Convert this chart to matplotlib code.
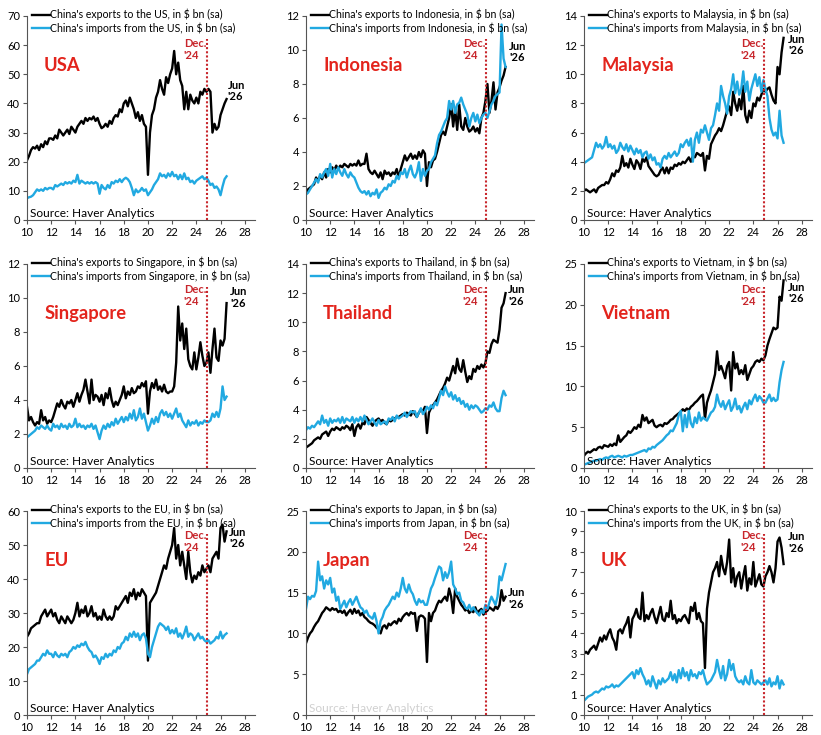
import numpy as np
import matplotlib
matplotlib.use("Agg")
import matplotlib.pyplot as plt

plt.rcParams['font.family'] = ['Lato', 'DejaVu Sans']

# bi-monthly observations, Jan 2010 .. mid 2026 (6 per year)
usa_exp = [20.5, 22, 24, 25, 24.5, 25.5, 24, 26, 25, 27, 26, 28, 28, 27.5, 29, 28, 31, 30,
           29, 30, 31, 29.5, 32, 31, 30, 32, 33, 34, 33, 35, 34, 35, 34.5, 35.5, 34, 35,
           33, 31.5, 32, 33, 32, 34, 33, 35, 36, 35.5, 38, 37, 40, 41, 39, 42, 40, 38,
           35, 37, 34, 36, 33, 32, 15.5, 30, 36, 38, 42, 44, 48, 45, 43, 49, 47, 50,
           52, 58, 50, 54, 48, 46, 38, 44, 38, 43, 41, 40, 42, 40, 44, 43, 45, 44,
           45, 44, 30, 33, 31, 32, 36, 38, 40, 41.5]
usa_imp = [7.5, 7.8, 8, 8.5, 9.5, 10.5, 10, 10.5, 10, 11, 10.5, 11, 11, 10.5, 12, 11.5, 12, 12.5,
           12, 13, 12.5, 13, 12.5, 13.5, 13, 15.5, 12.5, 13.5, 13, 12.5, 13, 12.5, 13, 12.5, 13, 12.5,
           9, 12, 11, 10.5, 12, 11, 13, 12.5, 13.5, 13, 14, 13, 14, 14.5, 14, 13, 11, 8.5,
           10.5, 9.5, 10, 11, 10, 10.5, 8.5, 9.5, 10.5, 12, 13, 14, 16, 15, 15.5, 14.5, 16, 15,
           16.5, 15, 15.5, 14, 15.5, 14, 16, 14, 14.5, 13, 13.5, 12.5, 13.5, 14, 14.5, 15, 14, 14.5,
           13.5, 12, 12.5, 11, 11.5, 10.5, 8.5, 11.5, 14, 15]

idn_exp = [1.6, 1.8, 1.9, 2.0, 2.1, 2.5, 2.3, 2.6, 2.4, 2.8, 2.5, 3.0, 2.8, 3.1, 2.9, 3.2, 3.0, 3.2,
           3.1, 3.3, 3.2, 3.1, 3.3, 3.2, 3.3, 3.2, 3.5, 3.2, 3.3, 3.3, 3.9, 3.0, 2.8, 2.7, 2.9, 2.7,
           2.5, 2.8, 2.4, 2.9, 2.7, 2.8, 2.6, 2.8, 2.7, 3.0, 2.5, 3.0, 3.4, 3.8, 3.5, 3.7, 3.9, 3.6,
           3.8, 3.6, 4.0, 3.7, 4.1, 3.9, 2.0, 3.4, 3.1, 3.5, 3.6, 4.0, 4.5, 5.0, 5.2, 5.0, 5.5, 6.0,
           6.8, 5.5, 6.5, 5.3, 6.8, 5.5, 5.3, 6.0, 5.5, 5.2, 5.3, 5.5, 5.2, 5.4, 5.1, 6.0, 6.3, 7.0,
           8.0, 6.3, 7.0, 8.1, 6.5, 7.5, 7.8, 8.2, 8.5, 9.0]
idn_imp = [1.5, 1.6, 1.8, 2.0, 2.2, 2.4, 2.2, 2.7, 2.5, 2.8, 3.0, 2.6, 3.3, 2.5, 3.0, 2.7, 3.1, 2.8,
           2.6, 3.0, 2.7, 2.5, 2.8, 2.6, 2.5, 2.2, 1.9, 1.7, 1.6, 1.7, 1.5, 1.7, 1.4, 1.6, 1.5, 1.8,
           1.3, 1.6, 1.7, 1.9, 1.8, 2.1, 2.0, 2.3, 2.2, 2.6, 2.4, 2.8, 2.7, 3.0, 2.5, 2.9, 3.2, 2.7,
           2.5, 2.8, 3.4, 2.3, 3.0, 2.6, 2.9, 3.0, 3.4, 3.6, 3.8, 4.5, 5.0, 5.2, 5.5, 5.8, 6.0, 7.0,
           6.5, 7.0, 6.3, 6.8, 6.9, 7.2, 6.8, 6.5, 6.2, 5.5, 6.0, 6.3, 5.8, 6.2, 5.7, 6.0, 6.2, 6.3,
           6.0, 6.4, 6.8, 7.0, 7.3, 7.4, 7.5, 11.5, 9.5, 9.0]

mys_exp = [2.0, 2.1, 2.0, 1.9, 2.0, 2.1, 1.9, 2.2, 2.3, 2.4, 2.4, 2.6, 2.5, 2.8, 3.2, 3.0, 3.4, 3.3,
           3.6, 4.4, 3.7, 3.9, 3.6, 4.2, 3.8, 3.5, 4.1, 3.9, 3.5, 4.2, 4.0, 4.3, 3.7, 3.5, 3.3, 3.1,
           3.0, 3.1, 3.4, 3.6, 3.2, 3.6, 3.2, 3.6, 3.5, 3.8, 3.7, 3.9, 3.8, 4.0, 3.9, 4.1, 4.3, 4.0,
           4.4, 4.3, 4.6, 4.5, 4.4, 4.6, 3.4, 4.4, 4.2, 5.2, 5.5, 5.8, 6.0, 6.3, 6.1, 6.5, 7.0, 7.5,
           7.8, 7.2, 8.8, 8.0, 7.5, 8.3, 7.6, 9.2, 7.2, 6.7, 7.5, 7.0, 8.0, 7.8, 8.4, 8.2, 8.6, 9.0,
           8.8, 9.0, 9.1, 8.6, 8.2, 8.0, 10.5, 10.0, 11.5, 12.5]
mys_imp = [3.9, 4.0, 4.1, 4.2, 4.3, 4.8, 5.3, 5.0, 5.2, 4.9, 5.1, 5.7, 5.0, 5.2, 4.9, 5.1, 4.6, 4.8,
           5.3, 5.0, 4.8, 5.2, 4.7, 5.1, 4.8, 4.5, 4.9, 4.6, 4.8, 4.3, 4.6, 4.7, 4.2, 4.5, 4.1, 4.3,
           3.8, 3.9, 3.6, 4.2, 4.4, 4.2, 4.6, 4.3, 4.5, 4.7, 4.4, 4.6, 5.2, 5.0, 5.3, 5.5, 5.1, 5.6,
           4.0, 5.5, 6.0, 5.3, 6.2, 6.0, 6.5, 6.0, 5.5, 6.3, 6.5, 7.2, 8.0, 7.5, 9.2, 8.5, 8.0, 7.3,
           8.5, 9.0, 10.0, 8.7, 9.5, 8.6, 9.0, 10.2, 8.8, 9.5, 8.2, 9.0, 9.5, 10.0, 9.2, 9.8, 8.8, 9.6,
           9.0, 8.5, 7.0, 6.2, 5.8, 6.0, 5.6, 7.5, 5.8, 5.3]

sgp_exp = [3.6, 2.8, 3.0, 2.7, 2.5, 2.7, 2.6, 3.4, 2.8, 3.0, 2.6, 2.8, 2.7, 3.0, 3.4, 3.8, 3.6, 4.0,
           3.7, 3.5, 3.9, 3.8, 4.0, 3.6, 4.0, 4.4, 3.9, 4.3, 4.6, 5.2, 4.5, 3.8, 5.2, 4.0, 4.3, 4.2,
           3.9, 4.3, 3.7, 4.4, 4.1, 4.7, 4.0, 3.6, 3.9, 3.7, 4.0, 4.3, 4.8, 4.1, 4.5, 4.3, 4.7, 4.4,
           4.5, 4.8, 4.7, 5.0, 4.8, 5.1, 3.2, 4.5, 5.0, 4.7, 5.2, 4.6, 4.8, 4.5, 4.9, 4.5, 4.4, 4.5,
           4.5, 4.8, 6.2, 9.5, 7.5, 8.5, 7.0, 8.2, 6.4, 6.0, 5.8, 6.8, 5.8, 6.5, 7.4, 6.6, 6.0, 6.2,
           6.8, 5.6, 7.0, 8.2, 6.5, 6.3, 7.5, 7.2, 7.6, 9.7]
sgp_imp = [1.8, 1.9, 2.0, 2.1, 2.2, 2.4, 2.3, 2.5, 2.4, 2.3, 2.5, 2.3, 2.2, 2.6, 2.4, 2.5, 2.3, 2.6,
           2.4, 2.5, 2.3, 2.6, 2.4, 2.5, 2.9, 2.4, 2.6, 2.4, 2.5, 2.3, 2.5, 2.4, 2.6, 2.3, 2.5, 2.1,
           1.7, 2.2, 2.5, 2.3, 2.6, 2.4, 2.7, 2.5, 2.9, 2.6, 2.8, 3.0, 2.7, 3.0, 2.8, 3.2, 2.9, 3.4,
           2.8, 3.0, 3.5, 2.9, 3.2, 2.7, 2.2, 2.5, 2.9, 2.6, 3.0, 2.7, 3.2, 3.4, 3.1, 3.3, 3.0, 3.2,
           2.9, 3.2, 3.5, 3.0, 3.2, 2.8, 2.6, 2.4, 2.8, 2.5, 2.7, 2.6, 2.8, 2.5, 2.7, 2.6, 2.8, 2.7,
           2.7, 2.8, 3.2, 3.0, 3.3, 3.0, 3.5, 4.8, 4.0, 4.2]

tha_exp = [1.4, 1.5, 1.6, 1.7, 1.9, 2.0, 2.1, 2.0, 2.3, 2.4, 2.5, 2.2, 2.5, 2.7, 2.6, 2.8, 2.7, 2.6,
           2.8, 2.7, 2.9, 2.8, 2.6, 3.0, 2.2, 2.8, 3.0, 2.7, 3.1, 3.0, 3.5, 3.3, 3.1, 2.9, 3.2, 3.3,
           3.4, 3.2, 3.3, 3.1, 3.0, 3.3, 3.2, 3.3, 3.4, 3.5, 3.5, 3.6, 3.7, 3.6, 3.8, 3.7, 3.6, 3.9,
           3.7, 3.5, 3.8, 4.0, 3.9, 4.2, 2.4, 3.8, 4.1, 4.3, 4.5, 4.7, 5.0, 5.3, 5.5, 5.8, 6.2, 6.0,
           6.5, 7.0, 6.5, 7.5, 6.8, 6.6, 7.4, 6.6, 5.9, 6.3, 6.1, 6.8, 6.6, 7.0, 6.8, 7.1, 6.9, 7.2,
           8.0, 7.9, 8.5, 8.8, 8.7, 8.6, 9.5, 11.0, 11.3, 12.0]
tha_imp = [2.6, 2.8, 2.7, 2.9, 2.8, 3.0, 3.2, 3.0, 3.6, 3.1, 3.3, 2.9, 3.4, 3.1, 3.3, 3.2, 3.4, 3.1,
           3.5, 3.1, 3.4, 3.3, 3.2, 3.5, 3.1, 3.4, 3.2, 3.5, 3.2, 3.6, 3.3, 3.0, 3.2, 3.4, 3.1, 2.9,
           3.3, 3.0, 3.1, 3.2, 3.0, 3.4, 3.3, 3.5, 3.2, 3.6, 3.4, 3.5, 3.6, 3.8, 3.5, 3.7, 3.9, 3.8,
           3.9, 3.5, 3.8, 4.1, 3.7, 3.9, 4.2, 4.0, 4.3, 4.1, 4.5, 4.3, 4.8, 5.3, 5.0, 5.6, 5.2, 4.9,
           5.2, 4.7, 5.0, 4.6, 4.8, 4.4, 4.6, 4.2, 4.4, 4.0, 4.3, 4.1, 4.3, 4.2, 4.0, 3.8, 3.9, 4.1,
           4.0, 4.3, 4.2, 4.5, 4.1, 3.9, 3.9, 4.8, 5.3, 5.0]

vnm_exp = [1.5, 1.8, 2.0, 1.9, 2.1, 2.3, 2.2, 2.5, 2.6, 2.4, 2.8, 2.7, 2.6, 2.9, 2.7, 3.0, 2.8, 4.0,
           3.2, 3.5, 3.8, 4.0, 4.5, 4.3, 4.6, 5.0, 4.8, 5.3, 5.0, 6.5, 5.8, 6.2, 5.5, 5.7, 5.9, 5.2,
           5.0, 5.2, 5.3, 5.1, 5.5, 5.4, 5.6, 5.9, 6.0, 6.3, 6.5, 6.7, 6.9, 7.2, 7.0, 7.3, 7.1, 7.5,
           7.7, 8.0, 8.2, 8.5, 8.8, 9.0, 6.0, 8.0, 8.8, 9.5, 10.5, 11.5, 14.3, 12.0, 12.5, 11.8, 11.0, 12.5,
           13.0, 9.5, 14.2, 12.2, 12.8, 11.5, 12.0, 11.5, 12.6, 10.8, 11.5, 12.2, 12.5, 13.0, 13.2, 13.0, 13.4, 13.2,
           13.8, 15.0, 15.8, 16.5, 17.2, 17.0, 17.2, 21.0, 20.5, 23.0]
vnm_imp = [0.4, 0.5, 0.6, 0.7, 0.8, 0.9, 0.9, 1.0, 1.1, 1.0, 1.2, 1.3, 1.2, 1.4, 1.5, 1.3, 1.4, 1.5,
           1.4, 1.3, 1.5, 1.4, 1.5, 1.6, 1.6, 1.7, 1.8, 1.9, 2.0, 2.1, 2.2, 2.0, 2.4, 2.3, 2.6, 2.5,
           2.8, 3.0, 3.2, 3.4, 3.7, 4.0, 4.2, 4.6, 4.5, 5.0, 5.5, 6.5, 7.0, 4.5, 6.5, 5.0, 7.0, 5.5,
           5.0, 6.2, 5.5, 6.8, 5.8, 6.2, 6.0, 5.8, 6.3, 6.8, 7.0, 7.5, 9.0, 8.0, 7.5, 8.2, 7.2, 7.8,
           8.3, 7.0, 7.5, 8.5, 7.2, 7.6, 6.8, 7.5, 8.0, 7.2, 8.3, 7.8, 8.5, 9.0, 8.2, 8.8, 8.5, 8.0,
           8.0, 8.5, 9.0, 8.2, 8.6, 8.2, 8.4, 10.5, 12.0, 13.0]

eu_exp = [23, 24, 25.5, 26, 26.5, 27, 27, 29, 30, 31, 29, 30, 31, 29, 30, 28, 27, 29,
          28, 27, 29, 28, 27, 28, 30, 33, 29, 31, 30, 32, 29, 30, 32, 29, 30, 28,
          29, 28, 31, 29, 28, 29, 28, 29, 32, 31, 32, 33, 34, 35, 33, 36, 35, 37,
          34, 36, 35, 37, 36, 35, 16, 33, 34, 35, 36, 38, 40, 42, 44, 43, 46, 48,
          50, 55, 46, 50, 44, 48, 44, 40, 48, 42, 39, 41, 40, 42, 41, 44, 42, 43,
          44, 42, 46, 47, 48, 46, 55, 56, 51, 54]
eu_imp = [12, 13.5, 14, 14.5, 15, 16, 16, 17, 18, 17.5, 19, 18, 18, 17, 18.5, 17.5, 17, 18,
          17.5, 18, 17, 18.5, 19, 20, 19.5, 20.5, 20, 21, 20.5, 21.5, 20, 19, 18.5, 17, 17.5, 16.5,
          15, 17, 16.5, 18, 17, 18, 17.5, 19, 18.5, 20, 19.5, 21, 21.5, 23, 22, 24, 23, 24.5,
          23, 24, 22, 23.5, 24, 22.5, 18, 17, 20, 22, 24, 26, 27, 26.5, 26, 25, 26, 24,
          25, 24, 25.5, 23, 24, 22.5, 24, 26, 23, 24, 23.5, 22, 23, 24, 22.5, 23, 22, 21.5,
          22, 21, 21.5, 22, 23, 22.5, 24.5, 22.5, 23.5, 24]

jpn_exp = [8.8, 9.5, 10, 10.3, 10.8, 11.2, 11.5, 12, 12.5, 12.8, 13.2, 13.0, 12.8, 13.1, 12.9, 13.0, 12.6, 12.8,
           12.5, 12.8, 12.2, 12.6, 12.9, 12.4, 13.0, 12.5, 12.8, 12.2, 12.5, 12.0, 11.8, 11.5, 11.3, 11.2, 11.0, 10.7,
           10.5, 10.0, 10.8, 11.0, 10.6, 11.2, 11.0, 11.3, 11.5, 11.2, 11.8, 11.5, 12.0, 12.3, 12.5, 12.2, 12.6, 12.4,
           12.5, 10.3, 12.0, 12.2, 12.1, 11.8, 6.5, 12.5, 11.5, 12.5, 12.8, 13.5, 14.0, 13.8, 14.2, 14.5, 14.0, 15.5,
           14.5, 12.5, 15.5, 14.5, 14.0, 13.5, 13.2, 12.8, 13.0, 12.5, 12.8, 12.6, 13.2, 12.5, 12.8, 13.0, 12.3, 12.6,
           12.8, 13.2, 13.0, 12.8, 13.3, 13.0, 13.5, 15.3, 14.0, 14.5]
jpn_imp = [13.0, 14.5, 14.2, 14.6, 14.5, 15.2, 18.8, 16.5, 17.0, 15.5, 16.5, 16.0, 16.8, 15.0, 15.5, 14.0, 14.5, 13.0,
           13.5, 14.0, 13.2, 13.8, 14.2, 13.5, 14.0, 14.5, 13.8, 13.2, 13.0, 12.5, 12.8, 12.2, 12.0, 11.8, 12.5, 11.5,
           10.0, 11.5, 12.0, 12.8, 13.2, 13.5, 14.0, 14.5, 14.2, 15.0, 14.5, 15.5, 16.8, 15.5, 15.0, 16.0, 15.2, 14.8,
           14.0, 13.5, 14.2, 13.8, 14.0, 13.5, 13.5, 14.5, 15.5, 16.0, 16.8, 17.5, 18.2, 18.0, 16.5, 17.5, 16.8, 17.5,
           18.8, 16.0, 15.5, 14.8, 15.0, 14.0, 13.8, 13.2, 13.0, 13.5, 12.8, 13.2, 12.8, 12.5, 12.2, 12.8, 12.5, 13.5,
           13.0, 13.8, 14.5, 14.0, 13.5, 14.5, 17.0, 16.5, 17.5, 18.5]

uk_exp = [3.0, 3.1, 3.0, 3.2, 3.3, 3.4, 3.2, 3.5, 3.8, 3.6, 3.9, 3.7, 4.0, 4.2, 3.8, 3.6, 3.2, 4.1,
          4.2, 4.0, 4.3, 4.5, 4.8, 3.8, 4.7, 4.9, 5.2, 4.8, 4.7, 6.0, 4.6, 4.9, 4.7, 5.0, 5.2, 4.8,
          4.5, 4.9, 5.3, 4.7, 4.6, 5.0, 4.8, 5.6, 4.7, 4.9, 4.5, 4.7, 4.6, 4.8, 4.9, 4.7, 4.5, 5.3,
          5.1, 5.5, 4.7, 5.0, 4.6, 4.5, 2.3, 5.2, 6.0, 6.5, 7.0, 7.2, 7.5, 6.8, 7.8, 7.2, 6.9, 7.5,
          8.6, 6.5, 7.2, 6.3, 6.8, 7.0, 6.2, 6.8, 7.3, 6.1, 6.7, 6.4, 7.5, 6.3, 6.6, 6.9, 6.4, 6.3,
          6.8, 7.0, 7.3, 7.0, 6.5, 7.2, 8.5, 8.7, 8.2, 7.4]
uk_imp = [0.7, 0.8, 0.9, 0.95, 1.0, 1.1, 1.15, 1.1, 1.2, 1.3, 1.25, 1.4, 1.35, 1.4, 1.5, 1.35, 1.45, 1.4,
          1.5, 1.6, 1.7, 1.8, 1.9, 2.0, 2.1, 1.8, 2.2, 2.0, 2.3, 2.0, 1.8, 1.5, 1.7, 1.4, 1.9, 1.6,
          1.3, 1.7, 1.5, 1.8, 1.6, 1.7, 1.8, 2.1, 1.7, 2.0, 1.6, 2.2, 1.8, 2.3, 1.9, 2.1, 1.7, 2.2,
          1.9, 2.0, 1.8, 2.1, 2.0, 2.2, 1.8, 1.5, 1.6, 1.7, 1.9, 2.1, 2.7, 2.2, 1.8, 2.4, 1.7, 2.0,
          2.7, 2.2, 2.5, 1.9, 1.7, 1.6, 1.7, 1.5, 1.9, 1.6, 1.5, 2.2, 1.6, 1.5, 1.7, 1.6, 1.5, 1.6,
          1.7, 1.5, 1.8, 1.4, 1.6, 1.5, 1.9, 1.3, 1.7, 1.5]

titles = ["USA", "Indonesia", "Malaysia", "Singapore", "Thailand", "Vietnam", "EU", "Japan", "UK"]
exp_names = ["the US", "Indonesia", "Malaysia", "Singapore", "Thailand", "Vietnam", "the EU", "Japan", "the UK"]
exports = [usa_exp, idn_exp, mys_exp, sgp_exp, tha_exp, vnm_exp, eu_exp, jpn_exp, uk_exp]
imports = [usa_imp, idn_imp, mys_imp, sgp_imp, tha_imp, vnm_imp, eu_imp, jpn_imp, uk_imp]
ymax = [70, 12, 14, 12, 14, 25, 60, 25, 10]
ystep = [10, 2, 2, 2, 2, 5, 10, 5, 1]
xticks = [10, 12, 14, 16, 18, 20, 22, 24, 26, 28]
dec_x = 24.92
jun_pos = [(0.88, 0.632), (0.89, 0.824), (0.895, 0.858), (0.89, 0.835), (0.886, 0.845),
           (0.895, 0.858), (0.886, 0.868), (0.886, 0.571), (0.895, 0.845)]
dec_y = [0.835, 0.835, 0.835, 0.845, 0.845, 0.845, 0.85, 0.85, 0.85]

BLUE = '#21a9e1'
RED = '#e3241c'
DRED = '#c8262c'

fig = plt.figure(figsize=(8.21, 7.35), dpi=100)
lefts = [27/821, 306/821, 584/821]
bottoms = [1 - 220/735, 1 - 468/735, 1 - 715/735]
w = 228/821
h = 204/735

x = 10 + np.arange(len(usa_exp)) / 6.0

for i in range(9):
    r, c = divmod(i, 3)
    ax = fig.add_axes([lefts[c], bottoms[r], w, h])
    ax.plot(x, exports[i], color='black', lw=1.7, label=f"China's exports to {exp_names[i]}, in $ bn (sa)")
    ax.plot(x, imports[i], color=BLUE, lw=1.7, label=f"China's imports from {exp_names[i]}, in $ bn (sa)")
    ax.set_xlim(10, 28.85)
    ax.set_ylim(0, ymax[i])
    ax.set_xticks(xticks)
    ax.set_yticks(np.arange(0, ymax[i] + 0.01, ystep[i]))
    ax.tick_params(labelsize=8, length=3, width=0.8, color='#555555', pad=2)
    for s in ['top', 'right']:
        ax.spines[s].set_visible(False)
    for s in ['left', 'bottom']:
        ax.spines[s].set_color('#555555')
        ax.spines[s].set_linewidth(0.8)
    ax.axvline(dec_x, ymin=0, ymax=0.885, color=DRED, lw=1.5, ls=(0, (1, 1)))
    ax.text(22.95, dec_y[i] * ymax[i], "Dec.\n'24", color=DRED, fontsize=8, fontweight='bold',
            ha='left', va='center', linespacing=1.05)
    jx, jy = jun_pos[i]
    ax.text(jx, jy, "Jun\n'26", transform=ax.transAxes, fontsize=8, fontweight='bold',
            ha='left', va='center', linespacing=1.05)
    ax.text(0.075, 0.755, titles[i], transform=ax.transAxes, color=RED, fontsize=13.2,
            fontweight='bold', ha='left', va='center')
    src_col = '#d0d0d0' if titles[i] == 'Japan' else 'black'
    ax.text(0.013, 0.03, "Source: Haver Analytics", transform=ax.transAxes, fontsize=8.6,
            ha='left', va='center', color=src_col)
    ax.legend(loc='upper left', bbox_to_anchor=(0.02, 1.035), frameon=False, fontsize=7.6,
              handlelength=1.7, handletextpad=0.05, borderpad=0, borderaxespad=0, labelspacing=0.18)

fig.savefig("out.png", dpi=100)
